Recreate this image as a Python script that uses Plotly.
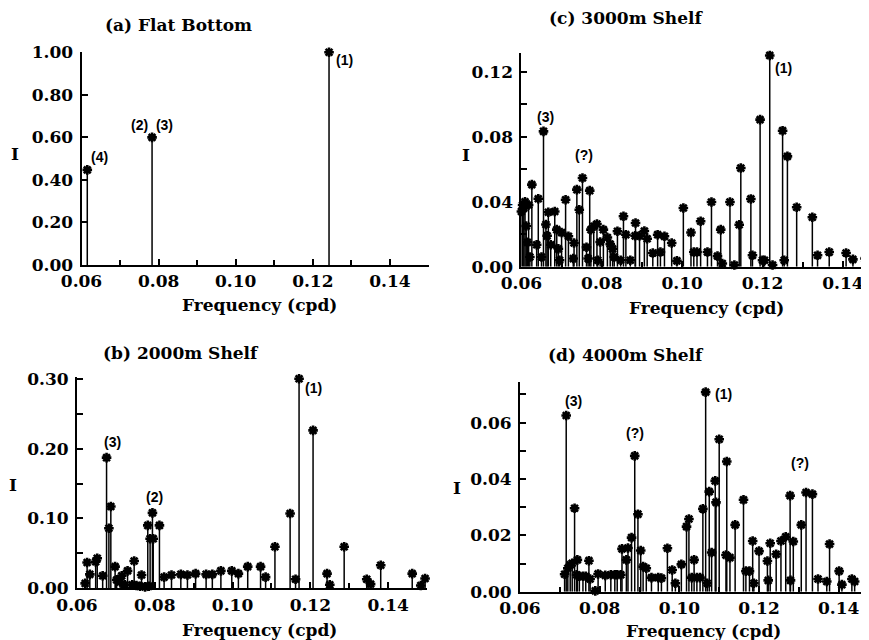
import plotly.graph_objects as go

# The page body has an 8px default margin: the figure is drawn 8px in from the
# window corner, so the figure is sized and positioned to compensate.
WIN_W, WIN_H = 869, 640
OFF = 8
W, H = WIN_W - OFF, WIN_H - OFF

# ---------------- data ----------------
# (a) Flat Bottom
freq_a = [0.0615, 0.0783, 0.1242]
inten_a = [0.447, 0.600, 1.000]

# (b) 2000m Shelf
freq_b = [0.0621, 0.0626, 0.0633, 0.0648, 0.0652, 0.0666, 0.0676, 0.0682, 0.0687, 0.0698,
          0.0702, 0.0711, 0.0715, 0.0723, 0.0730, 0.0742, 0.0747, 0.0753, 0.0762, 0.0766,
          0.0775, 0.0782, 0.0785, 0.0788, 0.0794, 0.0796, 0.0812, 0.0824, 0.0843, 0.0867,
          0.0884, 0.0905, 0.0932, 0.0948, 0.0970, 0.0998, 0.1015, 0.1039, 0.1072, 0.1085,
          0.1109, 0.1148, 0.1162, 0.1171, 0.1207, 0.1243, 0.1250, 0.1287, 0.1345, 0.1355,
          0.1381, 0.1462, 0.1484, 0.1495]
inten_b = [0.007, 0.037, 0.020, 0.038, 0.043, 0.018, 0.187, 0.086, 0.117, 0.031,
           0.012, 0.009, 0.018, 0.005, 0.025, 0.005, 0.039, 0.004, 0.003, 0.019,
           0.002, 0.090, 0.003, 0.071, 0.108, 0.071, 0.090, 0.016, 0.019, 0.020,
           0.019, 0.021, 0.020, 0.020, 0.025, 0.025, 0.021, 0.031, 0.031, 0.016,
           0.0595, 0.107, 0.013, 0.300, 0.226, 0.021, 0.005, 0.0595, 0.013, 0.006,
           0.033, 0.021, 0.004, 0.014]

# (c) 3000m Shelf
freq_c = [0.0600, 0.0603, 0.0606, 0.0609, 0.0612, 0.0615, 0.0618, 0.0621, 0.0626, 0.0638,
          0.0642, 0.0650, 0.0655, 0.0661, 0.0664, 0.0667, 0.0673, 0.0683, 0.0688, 0.0692,
          0.0695, 0.0700, 0.0710, 0.0717, 0.0729, 0.0731, 0.0738, 0.0744, 0.0752, 0.0762,
          0.0766, 0.0770, 0.0773, 0.0780, 0.0788, 0.0790, 0.0796, 0.0804, 0.0814, 0.0821,
          0.0827, 0.0831, 0.0839, 0.0847, 0.0854, 0.0860, 0.0871, 0.0883, 0.0884, 0.0894,
          0.0906, 0.0913, 0.0927, 0.0939, 0.0946, 0.0956, 0.0974, 0.0987, 0.1003, 0.1022,
          0.1029, 0.1037, 0.1046, 0.1063, 0.1073, 0.1088, 0.1096, 0.1100, 0.1119, 0.1130,
          0.1142, 0.1146, 0.1171, 0.1175, 0.1194, 0.1200, 0.1205, 0.1218, 0.1225, 0.1250,
          0.1254, 0.1262, 0.1285, 0.1324, 0.1337, 0.1366, 0.1408, 0.1425, 0.1455]
inten_c = [0.034, 0.038, 0.036, 0.040, 0.025, 0.015, 0.038, 0.006, 0.0505, 0.0135,
           0.0418, 0.006, 0.0833, 0.026, 0.019, 0.0335, 0.0135, 0.034, 0.0228, 0.011,
           0.004, 0.021, 0.0412, 0.0187, 0.005, 0.0146, 0.0474, 0.035, 0.0546, 0.012,
           0.005, 0.0468, 0.0228, 0.0249, 0.0263, 0.004, 0.0152, 0.0228, 0.018, 0.0139,
           0.011, 0.006, 0.0218, 0.004, 0.031, 0.0197, 0.004, 0.019, 0.0269, 0.019,
           0.022, 0.0172, 0.0084, 0.0197, 0.009, 0.0187, 0.0146, 0.0036, 0.0361, 0.021,
           0.009, 0.009, 0.028, 0.009, 0.0398, 0.0065, 0.0228, 0.002, 0.0398, 0.001,
           0.0258, 0.0607, 0.0417, 0.007, 0.0905, 0.004, 0.004, 0.130, 0.001, 0.0837,
           0.004, 0.0679, 0.0366, 0.0304, 0.007, 0.009, 0.0084, 0.0045, 0.005]

# (d) 4000m Shelf
freq_d = [0.0712, 0.0716, 0.0720, 0.0726, 0.0731, 0.0737, 0.0742, 0.0744, 0.0749, 0.0758,
          0.0765, 0.0773, 0.0776, 0.0789, 0.0796, 0.0814, 0.0828, 0.0838, 0.0844, 0.0853,
          0.0856, 0.0867, 0.0871, 0.0880, 0.0888, 0.0896, 0.0903, 0.0909, 0.0917, 0.0930,
          0.0947, 0.0955, 0.0970, 0.0982, 0.0990, 0.1005, 0.1018, 0.1024, 0.1031, 0.1037,
          0.1044, 0.1052, 0.1059, 0.1066, 0.1070, 0.1075, 0.1081, 0.1090, 0.1092, 0.1100,
          0.1117, 0.1119, 0.1127, 0.1140, 0.1161, 0.1167, 0.1176, 0.1184, 0.1187, 0.1200,
          0.1221, 0.1223, 0.1228, 0.1243, 0.1255, 0.1267, 0.1278, 0.1279, 0.1286, 0.1306,
          0.1318, 0.1334, 0.1348, 0.1370, 0.1377, 0.1401, 0.1408, 0.1433, 0.1440, 0.1471]
inten_d = [0.0062, 0.0625, 0.0083, 0.0095, 0.0101, 0.0296, 0.006, 0.0113, 0.0055, 0.0055,
           0.0055, 0.011, 0.0045, 0.0003, 0.0063, 0.0058, 0.006, 0.006, 0.006, 0.006,
           0.0152, 0.0113, 0.0155, 0.0192, 0.0482, 0.0275, 0.0146, 0.0089, 0.0083, 0.005,
           0.005, 0.0048, 0.0154, 0.0077, 0.003, 0.0097, 0.0231, 0.0258, 0.005, 0.0113,
           0.005, 0.005, 0.0294, 0.0708, 0.003, 0.0355, 0.0139, 0.0393, 0.0317, 0.0541,
           0.0130, 0.0462, 0.0121, 0.0237, 0.0326, 0.0073, 0.0073, 0.0180, 0.003, 0.0144,
           0.0109, 0.004, 0.0172, 0.0133, 0.0180, 0.0195, 0.0341, 0.004, 0.0178, 0.0237,
           0.0352, 0.0346, 0.0045, 0.0036, 0.0169, 0.0073, 0.0025, 0.0045, 0.0036, 0.0062]

titles = ["(a) Flat Bottom", "(c) 3000m Shelf", "(b) 2000m Shelf", "(d) 4000m Shelf"]
x_title = "Frequency (cpd)"
y_title = "I"

# peak labels: (text, freq, intensity) per panel
labels_a = [("(1)", 0.1282, 0.965), ("(2)  (3)", 0.0782, 0.66), ("(4)", 0.0646, 0.51)]
labels_b = [("(1)", 0.1207, 0.286), ("(2)", 0.0798, 0.131), ("(3)", 0.0692, 0.209)]
labels_c = [("(1)", 0.1252, 0.1225), ("(3)", 0.0659, 0.0919), ("(?)", 0.0756, 0.0687)]
labels_d = [("(1)", 0.1110, 0.0702), ("(3)", 0.0734, 0.0677), ("(?)", 0.0889, 0.0562),
            ("(?)", 0.1302, 0.0456)]

# ---------------- layout geometry (window pixels) ----------------
def px(X):
    return min(1.0, max(0.0, (X - OFF) / W))

def py(Y):
    return min(1.0, max(0.0, 1 - (Y - OFF) / H))

panels = [
    dict(freq=freq_a, inten=inten_a, labels=labels_a, xr=[0.06, 0.15], xp=[81.5, 428.5],
         yr=[0, 1.0], yp=[52.3, 265.0], dtick=0.2, minor=None),
    dict(freq=freq_c, inten=inten_c, labels=labels_c, xr=[0.06, 0.1465], xp=[521.4, 869],
         yr=[0, 0.1315], yp=[53.0, 266.7], dtick=0.04, minor=0.02),
    dict(freq=freq_b, inten=inten_b, labels=labels_b, xr=[0.06, 0.15], xp=[77.0, 427.0],
         yr=[0, 0.302], yp=[377.3, 588.3], dtick=0.1, minor=0.05),
    dict(freq=freq_d, inten=inten_d, labels=labels_d, xr=[0.06, 0.1476], xp=[520.0, 869],
         yr=[0, 0.0745], yp=[381.7, 591.7], dtick=0.02, minor=0.01),
]

title_pos = [(178, 25), (626, 18), (181, 353), (626, 355)]
xt_pos = [(260, 305), (706, 308), (259, 630), (703, 631)]
yt_pos = [(15, 154), (466, 155), (13, 485), (457, 488)]

fig = go.Figure()
tick_font = dict(family="DejaVu Serif", size=17, color="black", weight="bold")
lab_font = dict(family="Liberation Sans", size=14, color="black", weight="bold")
head_font = dict(family="DejaVu Serif", size=17, color="black", weight="bold")

annotations = []
for i, p in enumerate(panels):
    n = "" if i == 0 else str(i + 1)
    xa, ya = "x" + n, "y" + n
    sx, sy = [], []
    for f, v in zip(p["freq"], p["inten"]):
        sx += [f, f, None]
        sy += [0, v, None]
    fig.add_trace(go.Scatter(x=sx, y=sy, mode="lines", xaxis=xa, yaxis=ya,
                             line=dict(color="black", width=1.5), showlegend=False,
                             hoverinfo="skip"))
    fig.add_trace(go.Scatter(x=p["freq"], y=p["inten"], mode="markers", xaxis=xa, yaxis=ya,
                             cliponaxis=False, showlegend=False,
                             marker=dict(symbol="asterisk", size=8, color="black",
                                         line=dict(color="black", width=2.6))))
    ax = dict(range=p["xr"], domain=[px(p["xp"][0]), px(p["xp"][1])], anchor=ya,
              automargin=False,
              showline=True, linecolor="black", linewidth=2, ticks="inside", ticklen=6,
              tickwidth=1.5, tickcolor="black", showgrid=False, zeroline=False,
              tick0=0.06, dtick=0.02, tickformat=".2f", tickfont=tick_font,
              minor=dict(dtick=0.01, ticks="inside", ticklen=5, tickwidth=1.5,
                         tickcolor="black", showgrid=False))
    ay = dict(range=p["yr"], domain=[py(p["yp"][1]), py(p["yp"][0])], anchor=xa,
              automargin=False,
              showline=True, linecolor="black", linewidth=2, ticks="inside", ticklen=6,
              tickwidth=1.5, tickcolor="black", showgrid=False, zeroline=False,
              tick0=0, dtick=p["dtick"], tickformat=".2f", tickfont=tick_font,
              ticklabelstandoff=3)
    if p["minor"]:
        ay["minor"] = dict(dtick=p["minor"], ticks="inside", ticklen=6, tickwidth=1.5,
                           tickcolor="black", showgrid=False)
    fig.update_layout(**{("xaxis" + n): ax, ("yaxis" + n): ay})
    for t, fx, fy in p["labels"]:
        annotations.append(dict(text=t, x=fx, y=fy, xref=xa, yref=ya, showarrow=False,
                                font=lab_font, xanchor="center", yanchor="middle"))
    annotations.append(dict(text=titles[i], x=px(title_pos[i][0]), y=py(title_pos[i][1]),
                            xref="paper", yref="paper", showarrow=False, font=head_font,
                            xanchor="center", yanchor="middle"))
    annotations.append(dict(text=x_title, x=px(xt_pos[i][0]), y=py(xt_pos[i][1]),
                            xref="paper", yref="paper", showarrow=False, font=head_font,
                            xanchor="center", yanchor="middle"))
    annotations.append(dict(text=y_title, x=px(yt_pos[i][0]), y=py(yt_pos[i][1]),
                            xref="paper", yref="paper", showarrow=False, font=head_font,
                            xanchor="center", yanchor="middle"))

fig.update_layout(width=W, height=H,
                  margin=dict(l=0, r=0, t=0, b=0, pad=0, autoexpand=False),
                  paper_bgcolor="white", plot_bgcolor="white", annotations=annotations,
                  showlegend=False)
fig.write_html("out.html")
